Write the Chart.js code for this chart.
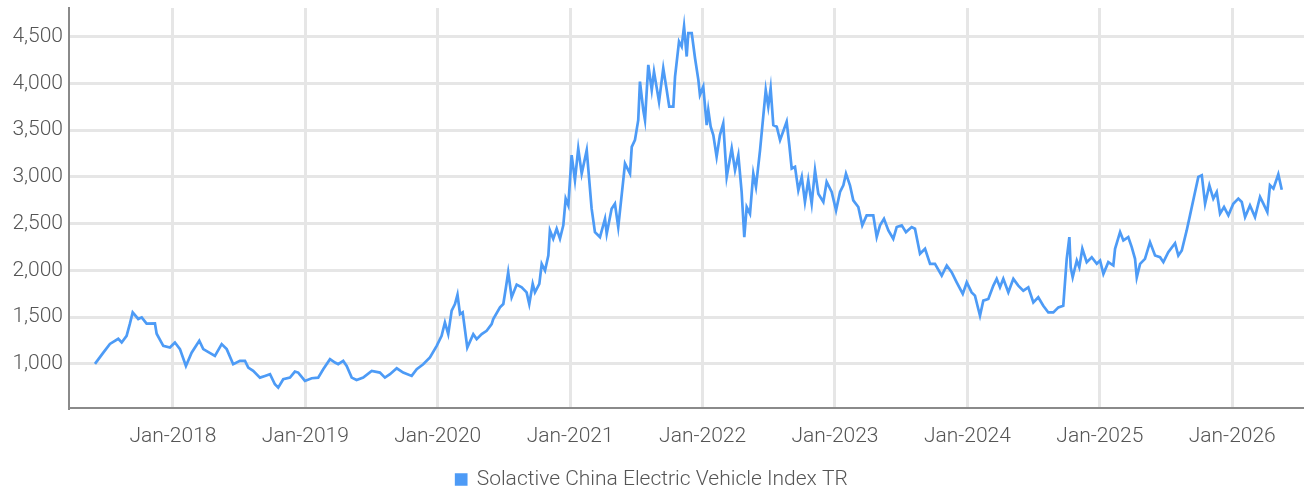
<!DOCTYPE html>
<html>
<head>
<meta charset="utf-8">
<script src="https://cdn.jsdelivr.net/npm/chart.js@4"></script>
<style>
  html, body { margin: 0; padding: 0; background: #ffffff; }
  #wrap { width: 1304px; height: 490px; position: relative; }
</style>
</head>
<body>
<div id="wrap"><canvas id="c"></canvas></div>
<script>
// Decimal-year positions of the sampled points
const dates = [
  2017.411, 2017.474, 2017.524, 2017.587, 2017.613, 2017.650, 2017.675, 2017.696, 2017.738, 2017.764,
  2017.801, 2017.864, 2017.877, 2017.927, 2017.977, 2018.015, 2018.053, 2018.098, 2018.141, 2018.199,
  2018.229, 2018.317, 2018.368, 2018.406, 2018.455, 2018.506, 2018.544, 2018.569, 2018.606, 2018.657,
  2018.695, 2018.733, 2018.770, 2018.795, 2018.833, 2018.884, 2018.921, 2018.946, 2018.997, 2019.048,
  2019.097, 2019.135, 2019.186, 2019.224, 2019.248, 2019.286, 2019.312, 2019.350, 2019.387, 2019.437,
  2019.501, 2019.563, 2019.601, 2019.639, 2019.690, 2019.739, 2019.803, 2019.841, 2019.890, 2019.941,
  2019.992, 2020.029, 2020.054, 2020.079, 2020.105, 2020.130, 2020.149, 2020.168, 2020.188, 2020.223,
  2020.268, 2020.294, 2020.332, 2020.369, 2020.407, 2020.419, 2020.470, 2020.495, 2020.515, 2020.532,
  2020.558, 2020.596, 2020.634, 2020.671, 2020.691, 2020.717, 2020.734, 2020.767, 2020.785, 2020.810,
  2020.835, 2020.847, 2020.872, 2020.898, 2020.923, 2020.948, 2020.966, 2020.986, 2021.011, 2021.036,
  2021.061, 2021.087, 2021.125, 2021.162, 2021.187, 2021.225, 2021.263, 2021.276, 2021.313, 2021.338,
  2021.363, 2021.401, 2021.414, 2021.452, 2021.465, 2021.489, 2021.514, 2021.527, 2021.552, 2021.565,
  2021.590, 2021.616, 2021.633, 2021.671, 2021.703, 2021.729, 2021.748, 2021.779, 2021.792, 2021.822,
  2021.842, 2021.860, 2021.880, 2021.892, 2021.918, 2021.943, 2021.968, 2021.980, 2022.005, 2022.031,
  2022.043, 2022.061, 2022.081, 2022.106, 2022.131, 2022.156, 2022.182, 2022.220, 2022.245, 2022.270,
  2022.295, 2022.315, 2022.333, 2022.358, 2022.383, 2022.403, 2022.434, 2022.458, 2022.477, 2022.496,
  2022.514, 2022.534, 2022.560, 2022.585, 2022.635, 2022.655, 2022.673, 2022.698, 2022.723, 2022.749,
  2022.773, 2022.798, 2022.824, 2022.849, 2022.874, 2022.912, 2022.937, 2022.975, 2023.008, 2023.038,
  2023.063, 2023.083, 2023.113, 2023.138, 2023.176, 2023.206, 2023.239, 2023.289, 2023.315, 2023.340,
  2023.370, 2023.403, 2023.440, 2023.466, 2023.504, 2023.536, 2023.579, 2023.604, 2023.642, 2023.680,
  2023.718, 2023.755, 2023.806, 2023.844, 2023.881, 2023.919, 2023.965, 2023.995, 2024.032, 2024.057,
  2024.095, 2024.120, 2024.158, 2024.196, 2024.221, 2024.246, 2024.271, 2024.309, 2024.347, 2024.384,
  2024.422, 2024.460, 2024.498, 2024.535, 2024.573, 2024.611, 2024.649, 2024.687, 2024.724, 2024.750,
  2024.770, 2024.780, 2024.795, 2024.826, 2024.845, 2024.868, 2024.901, 2024.939, 2024.977, 2025.002,
  2025.027, 2025.064, 2025.102, 2025.115, 2025.153, 2025.178, 2025.215, 2025.241, 2025.266, 2025.279,
  2025.304, 2025.341, 2025.379, 2025.417, 2025.455, 2025.480, 2025.517, 2025.568, 2025.593, 2025.619,
  2025.656, 2025.681, 2025.711, 2025.744, 2025.770, 2025.795, 2025.827, 2025.857, 2025.883, 2025.908,
  2025.938, 2025.971, 2026.008, 2026.046, 2026.072, 2026.097, 2026.134, 2026.172, 2026.210, 2026.235,
  2026.265, 2026.285, 2026.311, 2026.348, 2026.374
];

// Index level (Solactive China Electric Vehicle Index TR)
const indexValues = [
  1000, 1120, 1213, 1268, 1229, 1300, 1430, 1550, 1480, 1497,
  1430, 1433, 1322, 1193, 1175, 1229, 1158, 978, 1120, 1247,
  1158, 1086, 1211, 1158, 996, 1032, 1032, 960, 925, 853,
  871, 889, 782, 746, 836, 853, 917, 907, 818, 846,
  853, 943, 1050, 1014, 996, 1032, 978, 853, 828, 853,
  925, 907, 853, 889, 953, 907, 871, 943, 996, 1068,
  1193, 1300, 1443, 1318, 1569, 1640, 1740, 1532, 1551, 1175,
  1318, 1265, 1318, 1354, 1425, 1479, 1604, 1640, 1819, 1980,
  1712, 1848, 1819, 1765, 1640, 1855, 1765, 1855, 2069, 1998,
  2159, 2427, 2338, 2445, 2338, 2481, 2767, 2695, 3232, 2964,
  3304, 3035, 3286, 2660, 2409, 2356, 2552, 2392, 2660, 2713,
  2463, 2964, 3142, 3035, 3321, 3393, 3607, 4018, 3715, 3607,
  4198, 3929, 4126, 3804, 4162, 3929, 3751, 3751, 4072, 4448,
  4394, 4609, 4287, 4537, 4537, 4269, 4037, 3876, 3965, 3554,
  3715, 3536, 3447, 3214, 3447, 3572, 3000, 3304, 3071, 3232,
  2838, 2356, 2677, 2606, 3035, 2892, 3286, 3643, 3929, 3751,
  3947, 3554, 3536, 3393, 3590, 3340, 3089, 3107, 2856, 3000,
  2731, 2964, 2713, 3071, 2820, 2731, 2946, 2838, 2642, 2838,
  2910, 3035, 2910, 2749, 2677, 2481, 2588, 2588, 2356, 2481,
  2552, 2427, 2338, 2463, 2481, 2409, 2463, 2445, 2177, 2231,
  2070, 2070, 1944, 2052, 1980, 1872, 1748, 1872, 1765, 1730,
  1515, 1676, 1694, 1837, 1909, 1819, 1909, 1765, 1909, 1837,
  1783, 1819, 1658, 1712, 1622, 1550, 1550, 1604, 1622, 2123,
  2356, 2033, 1926, 2105, 2033, 2231, 2088, 2141, 2070, 2105,
  1962, 2088, 2052, 2231, 2409, 2320, 2356, 2248, 2123, 1926,
  2070, 2123, 2302, 2159, 2141, 2088, 2195, 2291, 2159, 2213,
  2427, 2588, 2785, 3000, 3018, 2713, 2910, 2767, 2838, 2606,
  2677, 2588, 2713, 2767, 2731, 2570, 2695, 2570, 2785, 2713,
  2624, 2910, 2874, 3028, 2863
];

const seriesName = 'Solactive China Electric Vehicle Index TR';
const xTickYears = [2018, 2019, 2020, 2021, 2022, 2023, 2024, 2025, 2026];
const yTickValues = [1000, 1500, 2000, 2500, 3000, 3500, 4000, 4500];

const FONT = "'Roboto', sans-serif";
const TEXT = '#555555';
const LINE = '#4d9bf6';

const points = dates.map((d, i) => ({ x: d, y: indexValues[i] }));

new Chart(document.getElementById('c'), {
  type: 'line',
  data: {
    datasets: [{
      label: seriesName,
      data: points,
      borderColor: LINE,
      backgroundColor: LINE,
      borderWidth: 2.7,
      pointRadius: 0,
      tension: 0
    }]
  },
  options: {
    responsive: true,
    maintainAspectRatio: false,
    animation: false,
    layout: { padding: { top: 8, right: 0, left: 0, bottom: -10 } },
    plugins: {
      tooltip: { enabled: false },
      legend: {
        position: 'bottom',
        labels: {
          color: TEXT,
          font: { family: FONT, size: 21, weight: 300 },
          boxWidth: 10,
          boxHeight: 10,
          padding: 0
        }
      }
    },
    scales: {
      x: {
        type: 'linear',
        min: 2017.215,
        max: 2026.542,
        afterBuildTicks: (s) => { s.ticks = xTickYears.map(v => ({ value: v })); },
        afterFit: (s) => { s.height = 61; s.paddingLeft = 0; s.paddingRight = 0; },
        ticks: {
          color: TEXT,
          font: { family: FONT, size: 21, weight: 300 },
          padding: 16,
          maxRotation: 0,
          autoSkip: false,
          callback: (v) => 'Jan-' + v
        },
        grid: { color: '#e6e6e6', lineWidth: 3, drawTicks: false },
        border: { display: true, color: '#8a8a8a', width: 2 }
      },
      y: {
        type: 'linear',
        min: 528,
        max: 4806,
        afterBuildTicks: (s) => { s.ticks = yTickValues.map(v => ({ value: v })); },
        afterFit: (s) => { s.width = 69; s.paddingTop = 0; s.paddingBottom = 0; },
        ticks: {
          color: TEXT,
          font: { family: FONT, size: 21, weight: 300 },
          padding: 6,
          callback: (v) => v.toLocaleString('en-US')
        },
        grid: { color: '#e6e6e6', lineWidth: 3, drawTicks: false },
        border: { display: true, color: '#8a8a8a', width: 2 }
      }
    }
  }
});
</script>
</body>
</html>
